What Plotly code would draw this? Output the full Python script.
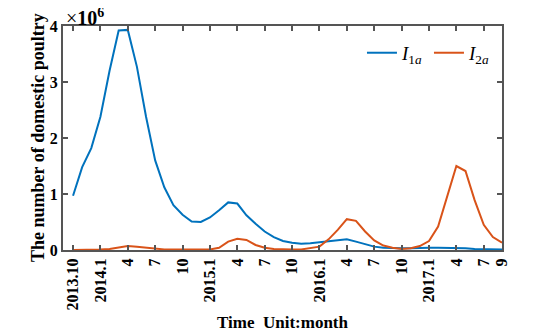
import plotly.graph_objects as go

# monthly values, 2013.10 .. 2017.9 (units of 1e6)
I1a = [0.97, 1.48, 1.82, 2.38, 3.2, 3.92, 3.93, 3.27, 2.38, 1.6, 1.12, 0.8, 0.63, 0.51,
       0.5, 0.58, 0.71, 0.85, 0.83, 0.62, 0.47, 0.33, 0.23, 0.16, 0.13, 0.11, 0.12, 0.14,
       0.16, 0.18, 0.19, 0.15, 0.1, 0.06, 0.04, 0.03, 0.03, 0.03, 0.04, 0.04, 0.04, 0.04,
       0.04, 0.03, 0.02, 0.02, 0.01, 0.01]
I2a = [0.0, 0.0, 0.0, 0.01, 0.02, 0.05, 0.07, 0.06, 0.04, 0.02, 0.01, 0.01, 0.01, 0.01,
       0.01, 0.01, 0.04, 0.15, 0.2, 0.18, 0.09, 0.04, 0.02, 0.01, 0.01, 0.01, 0.03, 0.06,
       0.19, 0.36, 0.55, 0.52, 0.33, 0.17, 0.08, 0.04, 0.02, 0.03, 0.07, 0.16, 0.42, 0.95,
       1.5, 1.41, 0.89, 0.45, 0.23, 0.13]

tick_pos = [0, 3, 6, 9, 12, 15, 18, 21, 24, 27, 30, 33, 36, 39, 42, 45, 47]
tick_text = ["2013.10", "2014.1", "4", "7", "10", "2015.1", "4", "7", "10",
             "2016.1", "4", "7", "10", "2017.1", "4", "7", "9"]
y_ticks = [0, 1, 2, 3, 4]

months = list(range(len(I1a)))
FONT = "Liberation Serif"

fig = go.Figure()
fig.add_trace(go.Scatter(x=months, y=I1a, mode="lines", name="<i>I</i><sub>1<i>a</i></sub>",
                         line=dict(color="#0072BD", width=2)))
fig.add_trace(go.Scatter(x=months, y=I2a, mode="lines", name="<i>I</i><sub>2<i>a</i></sub>",
                         line=dict(color="#D95319", width=2)))

axis_style = dict(showline=True, linecolor="#555555", linewidth=2, mirror="ticks",
                  ticks="inside", ticklen=5, tickwidth=2, tickcolor="#555555",
                  showgrid=False, zeroline=False)

fig.update_xaxes(range=[-1.1, 47], tickmode="array", tickvals=tick_pos,
                 ticktext=[f"<b>{t}</b>" for t in tick_text],
                 tickangle=-90, tickfont=dict(family=FONT, size=16, color="black"),
                 **axis_style)
fig.update_yaxes(range=[0, 4], tickmode="array", tickvals=y_ticks,
                 ticktext=[f"<b>{t}</b>" for t in y_ticks],
                 tickfont=dict(family=FONT, size=16, color="black"), **axis_style)

# page body has an 8px margin, so the figure is 8px smaller than the window
fig.update_layout(
    width=539, height=328,
    margin=dict(l=55, r=45, t=18, b=86, autoexpand=False),
    plot_bgcolor="white", paper_bgcolor="white",
    font=dict(family=FONT, color="black"),
    legend=dict(orientation="h", x=0.681, y=0.88, xanchor="left", yanchor="middle",
                entrywidth=22, entrywidthmode="pixels",
                bgcolor="rgba(0,0,0,0)", font=dict(family=FONT, size=19, color="black")),
    annotations=[
        dict(text="×<b>10<sup>6</sup></b>",
             x=0, y=1, xref="paper", yref="paper",
             xanchor="left", yanchor="bottom", showarrow=False, yshift=-5, xshift=1,
             font=dict(family=FONT, size=20)),
        dict(text="<b>The number of domestic poultry</b>", x=-25 / 439, y=0.5,
             xref="paper", yref="paper", showarrow=False, textangle=-90,
             xanchor="center", font=dict(family=FONT, size=18)),
        dict(text="<b>Time\u00a0\u00a0Unit:month</b>", x=0.5, y=0, xref="paper",
             yref="paper", showarrow=False, xanchor="center", yanchor="middle",
             yshift=-72, font=dict(family=FONT, size=17)),
    ],
)

fig.write_html("out.html")
